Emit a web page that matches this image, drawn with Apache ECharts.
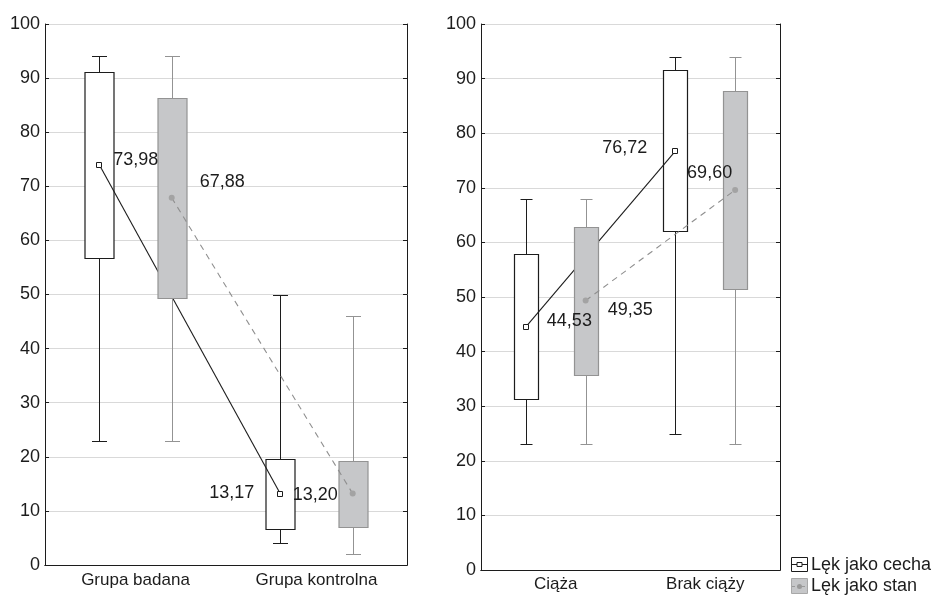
<!DOCTYPE html>
<html><head><meta charset="utf-8">
<script src="https://cdn.jsdelivr.net/npm/echarts@6/dist/echarts.min.js"></script>
<style>html,body{margin:0;padding:0;background:#fff}#c{width:932px;height:598px}</style>
</head><body><div id="c"></div>
<script>
// ---- data ----
const categoriesLeft = ['Grupa badana', 'Grupa kontrolna'];
const categoriesRight = ['Ciąża', 'Brak ciąży'];
const seriesNames = ['Lęk jako cecha', 'Lęk jako stan'];

const leftCechaMin  = [23, 4];
const leftCechaQ1   = [56.8, 6.6];
const leftCechaQ3   = [91.1, 19.6];
const leftCechaMax  = [94, 50];
const leftCechaMean = [73.98, 13.17];

const leftStanMin  = [23, 2];
const leftStanQ1   = [49.3, 7.1];
const leftStanQ3   = [86.3, 19.2];
const leftStanMax  = [94, 46];
const leftStanMean = [67.88, 13.20];

const rightCechaMin  = [23, 25];
const rightCechaQ1   = [31.3, 62.0];
const rightCechaQ3   = [57.8, 91.6];
const rightCechaMax  = [68, 94];
const rightCechaMean = [44.53, 76.72];

const rightStanMin  = [23, 23];
const rightStanQ1   = [35.8, 51.5];
const rightStanQ3   = [62.9, 87.8];
const rightStanMax  = [68, 94];
const rightStanMean = [49.35, 69.60];

// ---- styles ----
const FONT = '"Liberation Sans", Arial, sans-serif';
const DARK = '#1c1c1c';
const GREY_STROKE = '#939393';
const GREY_FILL = '#c6c7c9';
const GREY_MARK = '#a3a3a3';
// label placement (align, dx, dy) per category
const labelCfg = {
  leftCecha:  [['left', 14, -5], ['right', -26, -1]],
  leftStan:   [['left', 28, -16], ['right', -15, 1]],
  rightCecha: [['left', 21, -6], ['right', -28, -3]],
  rightStan:  [['left', 22, 9], ['right', -3, -17]]
};

function crisp(v) { return Math.round(v) + 0.5; }

function boxRender(off, stroke, fill, whisker) {
  return function (params, api) {
    const c = api.value(0);
    const band = api.size([1, 0])[0];
    const x = crisp(api.coord([c, 0])[0] + off * band);
    const yMin = crisp(api.coord([c, api.value(1)])[1]);
    const yQ1 = crisp(api.coord([c, api.value(2)])[1]);
    const yQ3 = crisp(api.coord([c, api.value(3)])[1]);
    const yMax = crisp(api.coord([c, api.value(4)])[1]);
    const bw = Math.round(band * 0.16);
    const cw = Math.round(band * 0.083);
    const ls = { stroke: whisker, lineWidth: 1 };
    return {
      type: 'group', children: [
        { type: 'line', shape: { x1: x, y1: yMax, x2: x, y2: yQ3 }, style: ls },
        { type: 'line', shape: { x1: x, y1: yQ1, x2: x, y2: yMin }, style: ls },
        { type: 'line', shape: { x1: x - cw / 2, y1: yMax, x2: x + cw / 2, y2: yMax }, style: ls },
        { type: 'line', shape: { x1: x - cw / 2, y1: yMin, x2: x + cw / 2, y2: yMin }, style: ls },
        { type: 'rect', shape: { x: x - bw / 2, y: yQ3, width: bw, height: yQ1 - yQ3 },
          style: { fill: fill, stroke: stroke, lineWidth: 1.2 } }
      ]
    };
  };
}

function meanPoint(api, off, means, k) {
  const band = api.size([1, 0])[0];
  const p = api.coord([k, means[k]]);
  return [p[0] + off * band, p[1]];
}

function meanRender(off, means, isCecha) {
  return function (params, api) {
    const i = params.dataIndex;
    const p = meanPoint(api, off, means, i);
    const children = [];
    if (i > 0) {
      const q = meanPoint(api, off, means, i - 1);
      children.push({
        type: 'line', shape: { x1: q[0], y1: q[1], x2: p[0], y2: p[1] },
        style: isCecha ? { stroke: DARK, lineWidth: 1.1 }
                       : { stroke: '#8f8f8f', lineWidth: 1.1, lineDash: [6, 5] }
      });
    }
    if (isCecha) {
      children.push({ type: 'rect', shape: { x: Math.round(p[0]) - 2.5, y: Math.round(p[1]) - 2.5, width: 5, height: 5 },
        style: { fill: '#fff', stroke: DARK, lineWidth: 1 }, z2: 5 });
    } else {
      children.push({ type: 'circle', shape: { cx: p[0], cy: p[1], r: 3 },
        style: { fill: GREY_MARK }, z2: 5 });
    }
    return { type: 'group', children: children };
  };
}

function labelRender(off, means, labels) {
  return function (params, api) {
    const i = params.dataIndex;
    const p = meanPoint(api, off, means, i);
    const lc = labels[i];
    const txt = means[i].toFixed(2).replace('.', ',');
    return {
      type: 'text', x: p[0] + lc[1], y: p[1] + lc[2],
      style: { text: txt, font: '18px ' + FONT, fill: DARK,
        align: lc[0], verticalAlign: 'middle', textAlign: lc[0], textVerticalAlign: 'middle' }
    };
  };
}

function boxData(mins, q1, q3, maxs) {
  return mins.map(function (m, i) { return [i, m, q1[i], q3[i], maxs[i]]; });
}
function meanData(means) { return means.map(function (m, i) { return [i, m]; }); }

function xAxes(cats, gi, labelMargin) {
  return [
    { type: 'category', gridIndex: gi, data: cats, position: 'bottom',
      axisLine: { lineStyle: { color: DARK, width: 1 } },
      axisTick: { inside: true, alignWithLabel: true, length: 4, lineStyle: { color: DARK } },
      axisLabel: { color: DARK, fontFamily: FONT, fontSize: 17, margin: labelMargin },
      splitLine: { show: false } },
    { type: 'category', gridIndex: gi, data: cats, position: 'top',
      axisLine: { lineStyle: { color: DARK, width: 1 } },
      axisTick: { inside: true, alignWithLabel: true, length: 4, lineStyle: { color: DARK } },
      axisLabel: { show: false }, splitLine: { show: false } }
  ];
}
function yAxes(gi) {
  return [
    { type: 'value', gridIndex: gi, min: 0, max: 100, interval: 10, position: 'left',
      axisLine: { show: true, lineStyle: { color: DARK, width: 1 } },
      axisTick: { show: true, inside: true, length: 4, lineStyle: { color: DARK } },
      axisLabel: { color: DARK, fontFamily: FONT, fontSize: 18, margin: 5 },
      splitLine: { show: true, lineStyle: { color: '#d9d9d9', width: 1 } } },
    { type: 'value', gridIndex: gi, min: 0, max: 100, interval: 10, position: 'right',
      axisLine: { show: true, lineStyle: { color: DARK, width: 1 } },
      axisTick: { show: true, inside: true, length: 4, lineStyle: { color: DARK } },
      axisLabel: { show: false }, splitLine: { show: false } }
  ];
}

function groupSeries(xi, yi, cechaArr, stanArr, labC, labS, off) {
  return [
    { type: 'custom', name: seriesNames[0], xAxisIndex: xi, yAxisIndex: yi, z: 2,
      renderItem: boxRender(-off, DARK, '#ffffff', DARK), encode: { x: 0, y: [1, 2, 3, 4] },
      data: boxData(cechaArr[0], cechaArr[1], cechaArr[2], cechaArr[3]) },
    { type: 'custom', name: seriesNames[0], xAxisIndex: xi, yAxisIndex: yi, z: 3,
      renderItem: meanRender(-off, cechaArr[4], true), encode: { x: 0, y: 1 },
      data: meanData(cechaArr[4]) },
    { type: 'custom', name: seriesNames[1], xAxisIndex: xi, yAxisIndex: yi, z: 4,
      renderItem: boxRender(off, GREY_STROKE, GREY_FILL, GREY_STROKE), encode: { x: 0, y: [1, 2, 3, 4] },
      data: boxData(stanArr[0], stanArr[1], stanArr[2], stanArr[3]) },
    { type: 'custom', name: seriesNames[1], xAxisIndex: xi, yAxisIndex: yi, z: 5,
      renderItem: meanRender(off, stanArr[4], false), encode: { x: 0, y: 1 },
      data: meanData(stanArr[4]) },
    { type: 'custom', name: seriesNames[0], xAxisIndex: xi, yAxisIndex: yi, z: 10,
      renderItem: labelRender(-off, cechaArr[4], labC), encode: { x: 0, y: 1 },
      data: meanData(cechaArr[4]) },
    { type: 'custom', name: seriesNames[1], xAxisIndex: xi, yAxisIndex: yi, z: 10,
      renderItem: labelRender(off, stanArr[4], labS), encode: { x: 0, y: 1 },
      data: meanData(stanArr[4]) }
  ];
}

const chart = echarts.init(document.getElementById('c'), null, { renderer: 'canvas' });
const option = {
  animation: false,
  backgroundColor: '#fff',
  textStyle: { fontFamily: FONT },
  grid: [
    { left: 45, top: 24, width: 362, height: 541, show: false },
    { left: 481, top: 24, width: 299, height: 546, show: false }
  ],
  xAxis: xAxes(categoriesLeft, 0, 7).concat(xAxes(categoriesRight, 1, 6)),
  yAxis: yAxes(0).concat(yAxes(1)),
  series: []
    .concat(groupSeries(0, 0,
      [leftCechaMin, leftCechaQ1, leftCechaQ3, leftCechaMax, leftCechaMean],
      [leftStanMin, leftStanQ1, leftStanQ3, leftStanMax, leftStanMean],
      labelCfg.leftCecha, labelCfg.leftStan, 0.2))
    .concat(groupSeries(2, 2,
      [rightCechaMin, rightCechaQ1, rightCechaQ3, rightCechaMax, rightCechaMean],
      [rightStanMin, rightStanQ1, rightStanQ3, rightStanMax, rightStanMean],
      labelCfg.rightCecha, labelCfg.rightStan, 0.2)),
  graphic: [
    { type: 'group', left: 789, top: 557, children: [
      { type: 'rect', shape: { x: 0.5, y: 0.5, width: 16, height: 14 }, style: { fill: '#fff', stroke: DARK, lineWidth: 1 } },
      { type: 'line', shape: { x1: 0.5, y1: 7.5, x2: 16.5, y2: 7.5 }, style: { stroke: DARK, lineWidth: 1 } },
      { type: 'rect', shape: { x: 6, y: 5.5, width: 5, height: 4 }, style: { fill: '#fff', stroke: DARK, lineWidth: 1 } },
      { type: 'rect', shape: { x: 0.5, y: 21.5, width: 16, height: 15 }, style: { fill: GREY_FILL, stroke: '#a8a8a8', lineWidth: 1 } },
      { type: 'line', shape: { x1: 1, y1: 29.5, x2: 16, y2: 29.5 }, style: { stroke: '#9a9a9a', lineWidth: 1, lineDash: [3, 2] } },
      { type: 'circle', shape: { cx: 8.5, cy: 29.5, r: 2.5 }, style: { fill: '#999' } }
    ] },
    { type: 'text', left: 811, top: 556, style: { text: seriesNames[0], font: '18px ' + FONT, fill: DARK } },
    { type: 'text', left: 811, top: 577, style: { text: seriesNames[1], font: '18px ' + FONT, fill: DARK } }
  ]
};
chart.setOption(option);
</script></body></html>
